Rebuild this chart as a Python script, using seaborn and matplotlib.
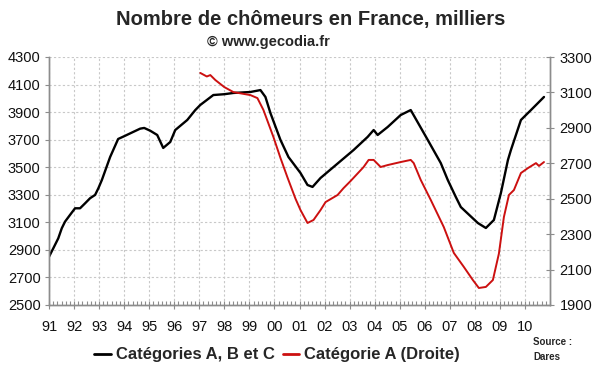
import matplotlib
matplotlib.use("Agg")
import matplotlib.pyplot as plt
from matplotlib.lines import Line2D
from matplotlib.ticker import MultipleLocator
import seaborn as sns
import pandas as pd

# ---- data ----
abc_years = [1991.00, 1991.17, 1991.37, 1991.51, 1991.64, 1991.84, 1992.04, 1992.24, 1992.44,
             1992.64, 1992.84, 1992.97, 1993.11, 1993.44, 1993.76, 1994.00, 1994.36, 1994.64,
             1994.80, 1995.04, 1995.32, 1995.56, 1995.84, 1996.04, 1996.52, 1996.84, 1997.04,
             1997.56, 1998.00, 1998.36, 1999.04, 1999.44, 1999.64, 1999.84, 2000.24, 2000.56,
             2001.04, 2001.32, 2001.52, 2001.84, 2002.36, 2003.16, 2003.72, 2003.96, 2004.12,
             2004.52, 2005.04, 2005.44, 2006.12, 2006.64, 2006.92, 2007.24, 2007.44, 2008.12,
             2008.44, 2008.76, 2009.04, 2009.32, 2009.44, 2009.84, 2010.24, 2010.52, 2010.76]
abc_vals = [2850, 2911, 2984, 3057, 3105, 3154, 3202, 3202, 3238,
            3275, 3299, 3347, 3407, 3574, 3705, 3725, 3756, 3780,
            3785, 3765, 3734, 3640, 3683, 3770, 3843, 3915, 3952,
            4024, 4030, 4039, 4046, 4060, 4010, 3893, 3698, 3574,
            3458, 3371, 3357, 3422, 3502, 3625, 3720, 3770, 3734,
            3792, 3879, 3915, 3698, 3530, 3407, 3284, 3211, 3095,
            3059, 3117, 3313, 3552, 3625, 3843, 3915, 3966, 4010]

a_years = [1997.04, 1997.30, 1997.44, 1997.64, 1998.00, 1998.36, 1999.04, 1999.32, 1999.56,
           1999.96, 2000.24, 2000.52, 2000.84, 2001.04, 2001.32, 2001.56, 2001.84, 2002.04,
           2002.52, 2002.76, 2003.04, 2003.56, 2003.76, 2003.96, 2004.24, 2004.52, 2005.04,
           2005.44, 2005.56, 2005.84, 2006.24, 2006.76, 2007.16, 2007.56, 2007.92, 2008.16,
           2008.44, 2008.72, 2008.96, 2009.16, 2009.36, 2009.56, 2009.84, 2010.12, 2010.44,
           2010.56, 2010.76]
a_vals = [3210, 3190, 3198, 3170, 3130, 3102, 3085, 3068, 3001,
          2848, 2730, 2620, 2500, 2436, 2363, 2380, 2436, 2481,
          2521, 2560, 2600, 2679, 2719, 2719, 2679, 2690, 2707,
          2719, 2701, 2606, 2493, 2340, 2194, 2115, 2041, 1996,
          2002, 2041, 2190, 2397, 2521, 2549, 2645, 2673, 2701,
          2685, 2707]

year_ticks = list(range(1991, 2011))
year_labels = [f"{y % 100:02d}" for y in year_ticks]
left_ticks = list(range(2500, 4301, 200))
right_ticks = list(range(1900, 3301, 200))

title = "Nombre de chômeurs en France, milliers"
subtitle = "© www.gecodia.fr"
label_abc = "Catégories A, B et C"
label_a = "Catégorie A (Droite)"

# ---- style ----
sns.set_style("ticks")
plt.rcParams['font.family'] = ['Liberation Sans', 'DejaVu Sans']

df_abc = pd.DataFrame({"annee": abc_years, "milliers": abc_vals})
df_a = pd.DataFrame({"annee": a_years, "milliers": a_vals})

fig = plt.figure(figsize=(6, 3.72), dpi=100)
fig.patch.set_facecolor("white")
ax = fig.add_axes([49/600, 1 - 305/372, 501/600, 248/372])
ax2 = ax.twinx()

sns.lineplot(data=df_abc, x="annee", y="milliers", ax=ax, color="black", linewidth=1.7)
sns.lineplot(data=df_a, x="annee", y="milliers", ax=ax2, color="#cc1010", linewidth=1.4)

ax.set_xlim(1991, 2011)
ax.set_ylim(2500, 4300)
ax2.set_ylim(1900, 3300)

ax.set_xticks(year_ticks)
ax.set_xticklabels(year_labels)
ax.xaxis.set_minor_locator(MultipleLocator(1/6))
ax.set_yticks(left_ticks)
ax2.set_yticks(right_ticks)

for a in (ax, ax2):
    a.set_xlabel("")
    a.set_ylabel("")
    a.spines["top"].set_visible(False)
    for s in ("left", "right", "bottom"):
        a.spines[s].set_color("#8c8c8c")
        a.spines[s].set_linewidth(1.0)

ax.grid(True, which="major", axis="both", color="#c8c8c8", linestyle=(0, (2, 2)), linewidth=0.8)
ax.set_axisbelow(True)

ax.tick_params(axis="y", which="major", direction="out", length=3, color="#8c8c8c",
               labelsize=10.5, pad=3, labelcolor="#111111")
ax.tick_params(axis="x", which="major", direction="inout", length=6, color="#8c8c8c",
               labelsize=10.5, pad=8, labelcolor="#111111")
ax.tick_params(axis="x", which="minor", direction="in", length=3, color="#8c8c8c", width=0.8)
ax2.tick_params(axis="y", which="major", direction="inout", length=6, color="#8c8c8c",
                labelsize=10.5, pad=4, labelcolor="#111111")

fig.text(311/600, 1 - 20/372, title, ha="center", va="center", fontsize=14.5, fontweight="bold")
fig.text(268/600, 1 - 42/372, subtitle, ha="center", va="center", fontsize=10.5, fontweight="bold")

handles = [Line2D([], [], color="black", linewidth=2),
           Line2D([], [], color="#cc1010", linewidth=2)]
fig.legend(handles, [label_abc, label_a], loc="center", bbox_to_anchor=(277/600, 1 - 355/372),
           ncol=2, frameon=False, prop={"weight": "bold", "size": 12},
           handlelength=1.0, handletextpad=0.3, columnspacing=0.5)

fig.text(533/600, 1 - 342/372, "Source :", ha="left", va="center", fontsize=7, fontweight="bold")
fig.text(533/600, 1 - 357/372, "Dares", ha="left", va="center", fontsize=7, fontweight="bold")

fig.savefig("out.png", dpi=100, facecolor="white")
